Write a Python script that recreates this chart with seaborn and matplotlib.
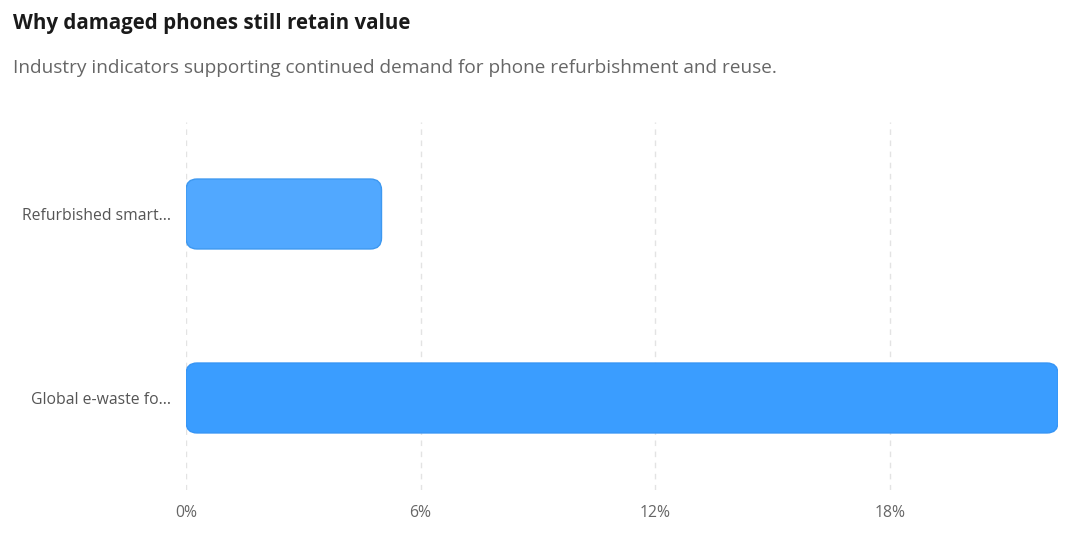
import matplotlib
matplotlib.use("Agg")
import matplotlib.pyplot as plt
from matplotlib.patches import FancyBboxPatch
from matplotlib.ticker import FuncFormatter
import seaborn as sns
import pandas as pd

labels = ["Refurbished smart...", "Global e-waste fo..."]
values = [5.0, 22.3]
bar_colors = ["#51a8ff", "#3a9dff"]
edge_colors = ["#3d98f0", "#3594f5"]
ticks = [0, 6, 12, 18]

df = pd.DataFrame({"label": labels, "value": values})

sns.set_theme(style="white")
plt.rcParams["font.family"] = ["Open Sans", "DejaVu Sans"]

fig = plt.figure(figsize=(10.92, 5.41), dpi=100)
ax = fig.add_axes([0.1703, 0.0943, 0.9689 - 0.1703, 0.7745 - 0.0943])

sns.barplot(data=df, x="value", y="label", hue="label", palette=bar_colors,
            orient="h", width=0.38, legend=False, ax=ax)

ax.set_xlim(0, max(values))
ax.set_ylim(1.5, -0.5)
ax.set_xticks(ticks)
ax.xaxis.set_major_formatter(FuncFormatter(lambda v, p: f"{v:.0f}%"))
ax.set_xlabel("")
ax.set_ylabel("")
for s in ax.spines.values():
    s.set_visible(False)
ax.grid(axis="x", color="#e3e3e3", linestyle=(0, (4, 4)), linewidth=1)
ax.set_axisbelow(True)
ax.tick_params(axis="x", length=0, pad=11, labelsize=11.3, labelcolor="#666666")
ax.tick_params(axis="y", length=0, pad=11, labelsize=11.3, labelcolor="#555555")

# swap bars for rounded ones
fig.canvas.draw()
px_x = ax.transData.transform((1, 0))[0] - ax.transData.transform((0, 0))[0]
px_y = abs(ax.transData.transform((0, 1))[1] - ax.transData.transform((0, 0))[1])
radius_px = 11
r = radius_px / px_x
aspect = px_x / px_y
for i, p in enumerate(list(ax.patches)):
    x0, y0 = p.get_x(), p.get_y()
    w, h = p.get_width(), p.get_height()
    p.remove()
    fb = FancyBboxPatch((x0, y0), w, h,
                        boxstyle=f"round,pad=0,rounding_size={r}",
                        mutation_aspect=aspect,
                        facecolor=bar_colors[i], edgecolor=edge_colors[i],
                        linewidth=1, zorder=3)
    ax.add_patch(fb)

fig.text(13 / 1092, 1 - 24 / 541, "Why damaged phones still retain value",
         fontsize=14.8, fontweight="bold", color="#1a1a1a", va="center", ha="left")
fig.text(13 / 1092, 1 - 68 / 541,
         "Industry indicators supporting continued demand for phone refurbishment and reuse.",
         fontsize=13.7, color="#666666", va="center", ha="left")

fig.savefig("out.png", dpi=100)
